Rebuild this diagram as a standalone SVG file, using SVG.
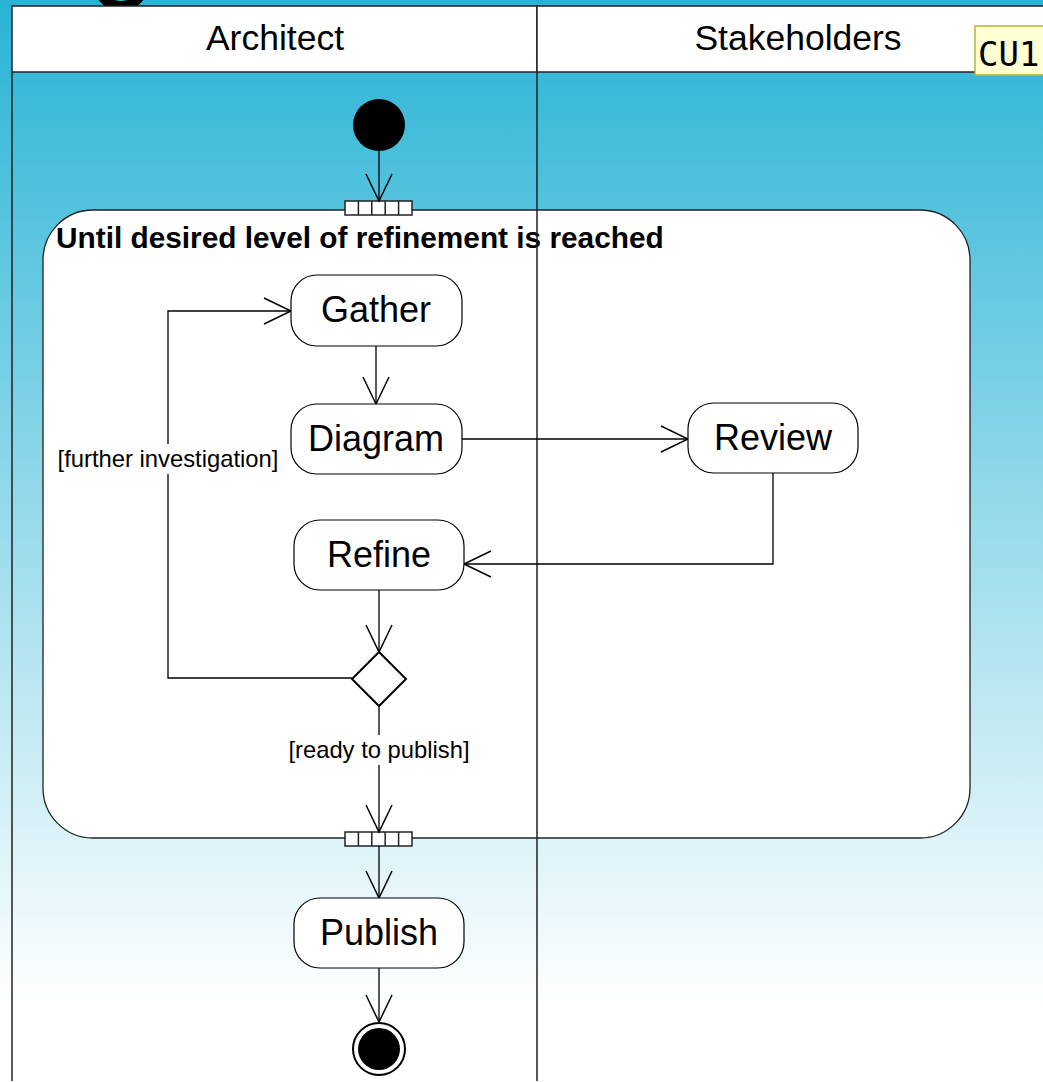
<svg xmlns="http://www.w3.org/2000/svg" width="1043" height="1082" viewBox="0 0 1043 1082">
<defs>
<linearGradient id="bg" x1="0" y1="0" x2="0" y2="1082" gradientUnits="userSpaceOnUse">
<stop offset="0" stop-color="#28b3d5"/>
<stop offset="0.93" stop-color="#ffffff"/>
<stop offset="1" stop-color="#ffffff"/>
</linearGradient>
<marker id="arr" markerUnits="userSpaceOnUse" markerWidth="40" markerHeight="40" refX="30" refY="15" orient="auto" overflow="visible">
<path d="M3,2 L30,15 L3,28" fill="none" stroke="#000" stroke-width="1.5"/>
</marker>
</defs>
<style>
.lane{fill:#fff;stroke:#222;stroke-width:1.5}
.lline{stroke:#222;stroke-width:1.5;fill:none}
.node{fill:#fff;stroke:#000;stroke-width:1.2}
.ntext{font-family:"Liberation Sans",Arial,sans-serif;font-size:36px;fill:#000;text-anchor:middle}
.htext{font-family:"Liberation Sans",Arial,sans-serif;font-size:35.5px;fill:#000;text-anchor:middle}
.edge{fill:none;stroke:#000;stroke-width:1.3}
.guard{font-family:"Liberation Sans",Arial,sans-serif;font-size:23.8px;fill:#000;text-anchor:middle}
.pin{fill:#fff;stroke:#222;stroke-width:1.5}
</style>
<rect x="0" y="0" width="1043" height="1082" fill="url(#bg)"/>
<ellipse cx="121" cy="-12" rx="21" ry="18" fill="none" stroke="#000" stroke-width="10"/>
<g id="lanes">
<rect class="lane" x="12" y="6" width="525" height="66"/>
<rect class="lane" x="537" y="6" width="520" height="66"/>
<text class="htext" x="275" y="50">Architect</text>
<text class="htext" x="798" y="50">Stakeholders</text>
<line class="lline" x1="12" y1="72" x2="12" y2="1081"/>
</g>
<g id="region">
<rect x="43" y="210" width="927" height="628" rx="50" ry="50" fill="#fff" stroke="#222" stroke-width="1.3"/>
<text x="56" y="248" font-family="'Liberation Sans',Arial,sans-serif" font-size="29.8" font-weight="bold" fill="#000">Until desired level of refinement is reached</text>
</g>
<line id="laneDivider" class="lline" x1="537" y1="72" x2="537" y2="1081"/>
<g id="pinTop">
<rect class="pin" x="345" y="201" width="67" height="14"/>
<path class="lline" d="M358.4,201v14M371.8,201v14M385.2,201v14M398.6,201v14"/>
</g>
<g id="pinBottom">
<rect class="pin" x="345" y="832" width="67" height="14"/>
<path class="lline" d="M358.4,832v14M371.8,832v14M385.2,832v14M398.6,832v14"/>
</g>
<g id="connectors">
<path class="edge" d="M379,151 V201" marker-end="url(#arr)"/>
<path class="edge" d="M376,346 V404" marker-end="url(#arr)"/>
<path class="edge" d="M462,439 H688" marker-end="url(#arr)"/>
<path class="edge" d="M773,473 V564 H464" marker-end="url(#arr)"/>
<path class="edge" d="M379,590 V652" marker-end="url(#arr)"/>
<path class="edge" d="M352,678 H168 V311 H291" marker-end="url(#arr)"/>
<path class="edge" d="M379,706 V832" marker-end="url(#arr)"/>
<path class="edge" d="M379,846 V898" marker-end="url(#arr)"/>
<path class="edge" d="M379,968 V1022" marker-end="url(#arr)"/>
<rect x="57" y="444" width="224" height="30" fill="#fff"/>
<text class="guard" x="168" y="467">[further investigation]</text>
<rect x="286" y="735" width="186" height="30" fill="#fff"/>
<text class="guard" x="379" y="758">[ready to publish]</text>
</g>
<g id="initial"><circle cx="379" cy="125" r="26" fill="#000"/></g>
<g id="gather"><rect class="node" x="291" y="275" width="171" height="71" rx="26"/><text class="ntext" x="376" y="322">Gather</text></g>
<g id="diagram"><rect class="node" x="291" y="404" width="171" height="70" rx="26"/><text class="ntext" x="376" y="451">Diagram</text></g>
<g id="review"><rect class="node" x="688" y="403" width="170" height="70" rx="26"/><text class="ntext" x="773" y="450">Review</text></g>
<g id="refine"><rect class="node" x="294" y="520" width="170" height="70" rx="26"/><text class="ntext" x="379" y="567">Refine</text></g>
<g id="decision"><path d="M379,652 L406,679 L379,706 L352,679 Z" fill="#fff" stroke="#000" stroke-width="2"/></g>
<g id="publish"><rect class="node" x="294" y="898" width="170" height="70" rx="26"/><text class="ntext" x="379" y="945">Publish</text></g>
<g id="final"><circle cx="379" cy="1049" r="26" fill="#fff" stroke="#000" stroke-width="2"/><circle cx="379" cy="1049" r="21" fill="#000"/></g>
<g id="tooltip">
<rect x="975" y="26" width="75" height="49" fill="#ffffd2" stroke="#b4b43c" stroke-width="1.5"/>
<text x="978" y="66" font-family="'DejaVu Sans Mono',monospace" font-size="34" fill="#000">CU1</text>
</g>
</svg>
